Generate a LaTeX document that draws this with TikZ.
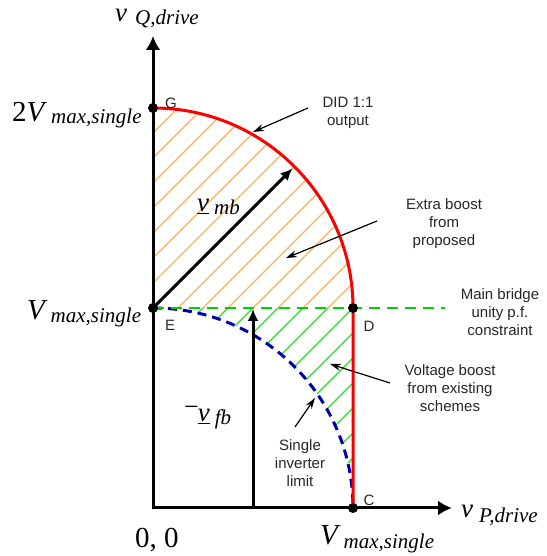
\documentclass[tikz,border=0pt]{standalone}
\usepackage{fontspec}
\setmainfont{Liberation Serif}
\setsansfont{Liberation Sans}
\usetikzlibrary{arrows.meta}
\definecolor{redc}{RGB}{255,0,0}
\definecolor{bluec}{RGB}{0,0,170}
\definecolor{greenc}{RGB}{0,210,0}
\definecolor{orangeh}{RGB}{255,175,90}
\definecolor{greenh}{RGB}{40,220,40}
\newcommand{\bigsz}{\fontsize{29}{29}\selectfont}
\newcommand{\subsz}{\fontsize{21}{21}\selectfont}
\newcommand{\vsz}{\fontsize{27}{27}\selectfont}
\newcommand{\phsz}{\fontsize{27}{27}\selectfont}
\begin{document}
\begin{tikzpicture}[x=1pt,y=1pt,
  axisline/.style={line width=3pt, {Latex[length=14pt,width=15pt]}-{Latex[length=14pt,width=15pt]}},
  vec/.style={line width=3pt, -{Latex[length=12pt,width=11pt]}},
  note/.style={line width=1.2pt, -{Stealth[length=11pt,width=7pt]}},
  notetext/.style={font=\sffamily\fontsize{15}{18}\selectfont, align=center, text=black!85, inner sep=0},
  ptlabel/.style={font=\sffamily\fontsize{15}{15}\selectfont, inner sep=0, text=black!85},
  mathlabel/.style={anchor=base west, inner sep=0},
  dot/.style={circle, fill=black, inner sep=0, minimum size=10pt},
  hatchO/.style={orangeh, line width=1.1pt},
  hatchG/.style={greenh, line width=1.1pt}
]
\useasboundingbox (0,0) rectangle (546,556);
\coordinate (O) at (153,48);
\coordinate (E) at (153,248);
\coordinate (G) at (153,448);
\coordinate (D) at (353,248);
\coordinate (C) at (353,48);
\coordinate (Ytip) at (153,520);
\coordinate (Xtip) at (452,48);
\coordinate (Lend) at (445,248);
\coordinate (Mtip) at (292.5,387.5);
\coordinate (Fbase) at (253,48);
\coordinate (Ftip) at (253,247);

% hatching
\begin{scope}
\clip (E) -- (D) arc[start angle=0,end angle=90,radius=200] -- cycle;
\foreach \k in {-9,...,9} \draw[hatchO] (100,{195+25*\k}) -- ++(300,300);
\end{scope}
\begin{scope}
\clip (E) -- (D) -- (C) arc[start angle=0,end angle=90,radius=200] -- cycle;
\foreach \k in {-17,...,0} \draw[hatchG] (100,{195+25*\k}) -- ++(300,300);
\end{scope}

% curves
\draw[bluec, line width=3pt, dash pattern=on 9pt off 6pt] (E) arc[start angle=90,end angle=0,radius=200];
\draw[greenc, line width=2.5pt, dash pattern=on 11pt off 7pt] (E) -- (Lend);
\draw[redc, line width=3pt] (G) arc[start angle=90,end angle=0,radius=200] -- (C);

% axes
\draw[axisline] (Ytip) -- (O) -- (Xtip);

% vectors
\draw[vec] (E) -- (Mtip);
\draw[vec] (Fbase) -- (Ftip);

% dots
\node[dot] (g) at (G) {};
\node[dot] (e) at (E) {};
\node[dot] (d) at (D) {};
\node[dot] (c) at (C) {};
\node[ptlabel] (gl) at (171,453) {G};
\node[ptlabel] (el) at (170,231) {E};
\node[ptlabel] (dl) at (369,230) {D};
\node[ptlabel] (cl) at (369,56) {C};

% math labels
\node[mathlabel] (lq) at (115,534) {\vsz\textit{v}\kern8pt\raisebox{-3pt}{\subsz\textit{Q,drive}}};
\node[mathlabel] (lp) at (461,38) {\vsz\textit{v}\kern6pt\raisebox{-5pt}{\subsz\textit{P,drive}}};
\node[mathlabel] (l2v) at (12,434) {\bigsz 2\textit{V}\kern4pt\raisebox{-2pt}{\subsz\textit{max,single}}};
\node[mathlabel] (lv) at (27,236) {\bigsz\textit{V}\kern3pt\raisebox{-3pt}{\subsz\textit{max,single}}};
\node[mathlabel] (l00) at (135,9) {\bigsz 0, 0};
\node[mathlabel] (lvb) at (320,11) {\bigsz\textit{V}\kern3pt\raisebox{-3pt}{\subsz\textit{max,single}}};
\node[mathlabel] (lmb) at (197,344) {\phsz\underline{\textit{v}}\kern5pt\raisebox{-3pt}{\subsz\textit{mb}}};
\node[mathlabel] (lfb) at (184,134) {\raisebox{6pt}{\fontsize{26}{26}\selectfont −}\kern-1pt\phsz\underline{\textit{v}}\kern5pt\raisebox{-3pt}{\subsz\textit{fb}}};

% annotations
\node[notetext] (did) at (348,443) {DID 1:1\\output};
\node[notetext] (extra) at (444,332) {Extra boost\\from\\proposed};
\node[notetext] (mainb) at (500,244) {Main bridge\\unity p.f.\\constraint};
\node[notetext] (volt) at (450,168) {Voltage boost\\from existing\\schemes};
\node[notetext] (single) at (300,93) {Single\\inverter\\limit};

\coordinate (didT) at (308,448);
\coordinate (didH) at (253,424);
\coordinate (exT) at (377,335);
\coordinate (exH) at (286,298);
\coordinate (voT) at (390,173);
\coordinate (voH) at (330,192);
\coordinate (siT) at (295,129);
\coordinate (siH) at (315,158);
\draw[note] (didT) -- (didH);
\draw[note] (exT) -- (exH);
\draw[note] (voT) -- (voH);
\draw[note] (siT) -- (siH);
\end{tikzpicture}
\end{document}
